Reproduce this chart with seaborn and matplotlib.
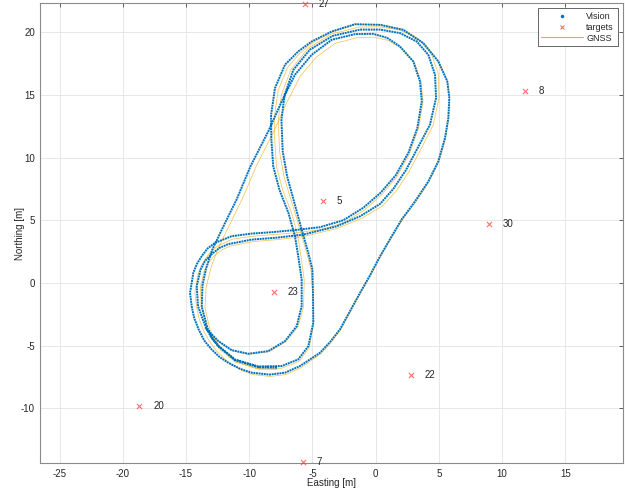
import matplotlib
matplotlib.use("Agg")
import matplotlib.pyplot as plt
from matplotlib.lines import Line2D
import seaborn as sns
import pandas as pd

# ---------------- data ----------------
vision_x = [-7.8, -9.28, -11.12, -12.44, -13.0, -13.45, -14.05, -14.15, -13.85, -13.5, -12.97, -12.35, -11.65,
            -9.8, -7.96, -5.72, -3.08, -1.23, 0.35, 1.4, 2.4, 3.4, 4.3,
            4.78, 4.7, 4.17, 3.25, 1.93, 0.35, -1.23, -3.4, -5.2, -6.5,
            -7.2, -7.45, -7.35, -7.0, -6.7, -6.2, -5.75, -5.35, -5.0, -4.95,
            -4.93, -5.32, -6.12, -7.43, -9.28, -11.12, -12.44, -12.95, -13.3, -13.75, -13.7,
            -13.4, -12.9, -11.91, -11.0, -9.9, -8.49, -7.43, -6.38, -5.06, -3.47,
            -1.63, -0.2, 0.9, 1.93, 2.98, 3.51, 3.65, 3.3, 2.6, 1.6,
            0.4, -0.97, -2.56, -4.4, -6.38, -8.22, -9.8, -11.39, -12.7, -13.3, -13.76,
            -14.15, -14.42, -14.68, -14.55, -14.35, -14.0, -13.55, -12.97, -12.35, -11.65, -10.7, -9.8, -8.4, -7.17, -5.98,
            -4.4, -3.6, -2.82, -2.0, -1.23, -0.45, 0.35, 1.2, 2.06, 3.12,
            4.17, 4.96, 5.49, 5.75, 5.83, 5.67, 4.96, 3.77, 2.19, 0.35,
            -1.63, -3.47, -5.06, -6.12, -7.17, -7.96, -8.27, -8.25, -8.1, -7.6,
            -6.9, -6.38, -6.12, -5.85, -5.85, -6.24, -7.17, -8.49, -10.07, -11.39,
            -12.44, -13.48]
vision_y = [-6.75, -6.72, -6.15, -5.05, -4.35, -3.5, -1.85, -0.25, 1.07, 1.75, 2.3, 2.8, 3.1,
            3.46, 3.6, 3.86, 4.52, 5.32, 6.3, 7.5, 9.0, 10.9, 12.62,
            14.75, 16.6, 18.19, 19.25, 19.92, 20.2, 20.2, 19.7, 18.6, 17.0,
            15.0, 13.0, 10.5, 8.5, 7.4, 5.6, 3.9, 2.5, 1.07, -1.05,
            -3.17, -5.03, -6.09, -6.62, -6.65, -6.1, -5.0, -4.35, -3.6, -1.9, -0.2,
            1.2, 2.7, 4.79, 6.65, 9.3, 12.09, 14.47, 16.6, 18.19, 19.39,
            19.84, 19.86, 19.55, 18.85, 17.66, 16.07, 14.47, 12.36, 10.4, 8.6,
            7.2, 6.0, 5.0, 4.45, 4.22, 4.05, 3.94, 3.73, 3.2, 2.75, 2.13,
            1.5, 0.81, -0.78, -1.85, -2.8, -3.7, -4.6, -5.3, -5.9, -6.36, -6.85, -7.15, -7.3, -7.15, -6.62,
            -5.56, -4.7, -3.7, -2.2, -0.78, 0.6, 2.13, 3.6, 5.06, 6.51,
            8.1, 9.7, 11.56, 13.15, 14.75, 16.07, 17.66, 19.12, 20.18, 20.58,
            20.63, 20.05, 19.25, 18.46, 17.4, 15.54, 13.4, 11.5, 9.3, 7.4,
            5.6, 3.73, 2.13, 0.28, -1.85, -3.44, -4.63, -5.43, -5.64, -5.35,
            -4.63, -3.57]

gnss_x = [-7.8, -9.3, -11.1, -12.4, -12.85, -13.3, -13.8, -13.85, -13.55, -13.2, -12.75, -12.15, -11.5,
          -9.7, -7.9, -5.7, -3.05, -1.1, 0.55, 1.65, 2.65, 3.65, 4.55,
          5.02, 4.95, 4.4, 3.4, 1.95, 0.3, -1.3, -3.5, -5.35, -6.7,
          -7.45, -7.7, -7.6, -7.25, -6.9, -6.35, -5.85, -5.45, -5.1, -4.95,
          -4.9, -5.25, -6.05, -7.45, -9.3, -11.1, -12.3, -12.75, -13.1, -13.5, -13.4,
          -13.0, -12.45, -11.45, -10.55, -9.45, -8.05, -7.0, -5.95, -4.7, -3.2,
          -1.5, -0.15, 0.95, 2.0, 3.05, 3.6, 3.75, 3.4, 2.7, 1.7,
          0.5, -0.9, -2.5, -4.35, -6.35, -8.2, -9.8, -11.3, -12.5, -13.05, -13.45,
          -13.8, -14.05, -14.3, -14.15, -13.95, -13.6, -13.15, -12.6, -12.0, -11.4, -10.55, -9.7, -8.35, -7.1, -5.9,
          -4.35, -3.55, -2.78, -1.97, -1.2, -0.42, 0.38, 1.23, 2.1, 3.17,
          4.22, 5.0, 5.53, 5.79, 5.86, 5.7, 5.0, 3.8, 2.2, 0.35,
          -1.6, -3.45, -5.0, -6.0, -6.95, -7.7, -8.0, -7.98, -7.85, -7.35,
          -6.65, -6.15, -5.9, -5.65, -5.7, -6.15, -7.1, -8.45, -10.05, -11.4,
          -12.45, -13.4]
gnss_y = [-6.9, -6.85, -6.3, -5.2, -4.45, -3.6, -1.9, -0.3, 1.0, 1.65, 2.2, 2.65, 2.95,
          3.3, 3.45, 3.7, 4.35, 5.15, 6.15, 7.35, 8.9, 10.8, 12.6,
          14.75, 16.7, 18.3, 19.45, 20.15, 20.42, 20.4, 19.85, 18.7, 17.0,
          15.0, 13.0, 10.5, 8.5, 7.3, 5.5, 3.8, 2.4, 1.0, -1.1,
          -3.2, -5.15, -6.25, -6.8, -6.85, -6.25, -5.1, -4.45, -3.7, -2.0, -0.3,
          1.3, 2.8, 4.85, 6.7, 9.3, 12.1, 14.45, 16.5, 18.0, 19.1,
          19.55, 19.6, 19.35, 18.75, 17.6, 16.05, 14.45, 12.35, 10.35, 8.5,
          7.05, 5.8, 4.8, 4.25, 4.0, 3.85, 3.72, 3.5, 2.95, 2.5, 1.95,
          1.35, 0.7, -0.8, -1.95, -2.9, -3.8, -4.65, -5.4, -6.0, -6.5, -7.0, -7.3, -7.45, -7.3, -6.75,
          -5.65, -4.78, -3.75, -2.25, -0.82, 0.56, 2.1, 3.57, 5.02, 6.46,
          8.05, 9.66, 11.53, 13.13, 14.74, 16.08, 17.68, 19.15, 20.22, 20.6,
          20.6, 20.0, 19.15, 18.3, 17.2, 15.4, 13.3, 11.45, 9.3, 7.4,
          5.6, 3.7, 2.1, 0.25, -1.9, -3.5, -4.68, -5.48, -5.68, -5.4,
          -4.68, -3.65]

target_x = [-5.59, 11.82, -4.16, 8.97, -8.04, 2.8, -18.7, -5.74]
target_y = [22.25, 15.33, 6.57, 4.74, -0.68, -7.36, -9.83, -14.3]
target_labels = ["27", "8", "5", "30", "23", "22", "20", "7"]

# ---------------- style ----------------
BLUE = "#0072BD"
YELLOW = "#EDB120"
sns.set_style("white")
plt.rcParams["font.family"] = ["Liberation Sans", "DejaVu Sans"]
plt.rcParams["font.size"] = 7
plt.rcParams["axes.unicode_minus"] = False

fig = plt.figure(figsize=(6.25, 4.92), dpi=100)
ax = fig.add_axes([0.0646, 0.0589, 0.9322, 0.935])

vis_df = pd.DataFrame({"x": vision_x, "y": vision_y})
gn_df = pd.DataFrame({"x": gnss_x, "y": gnss_y})
tg_df = pd.DataFrame({"x": target_x, "y": target_y})

sns.lineplot(data=gn_df, x="x", y="y", sort=False, estimator=None, ax=ax,
             color=YELLOW, lw=0.55, alpha=0.75, zorder=2, legend=False)
sns.lineplot(data=vis_df, x="x", y="y", sort=False, estimator=None, ax=ax,
             color=BLUE, lw=1.4, linestyle=(0, (1.0, 0.35)), zorder=3, legend=False)
sns.scatterplot(data=tg_df, x="x", y="y", ax=ax, marker="x", color="#FF3030",
                s=14, linewidth=0.8, alpha=0.7, zorder=4, clip_on=False, legend=False)
for tx, ty, lab in zip(target_x, target_y, target_labels):
    ax.text(tx + 1.1, ty, lab, ha="left", va="center", fontsize=7, color="#262626",
            zorder=5, clip_on=False)

ax.set_xlim(-26.52, 19.57)
ax.set_ylim(-14.35, 22.32)
ax.set_xticks([-25, -20, -15, -10, -5, 0, 5, 10, 15])
ax.set_yticks([-10, -5, 0, 5, 10, 15, 20])
ax.set_xlabel("Easting [m]", fontsize=7, color="#262626")
ax.set_ylabel("Northing [m]", fontsize=7, color="#262626")
ax.xaxis.set_label_coords(0.5, -0.033)
ax.yaxis.set_label_coords(-0.027, 0.5)
ax.grid(True, color="#e3e3e3", lw=0.6)
ax.set_axisbelow(True)
ax.tick_params(direction="in", length=3, width=0.5, colors="#262626",
               top=True, right=True, labelsize=7, pad=4)
for sp in ax.spines.values():
    sp.set_color("#8a8a8a")
    sp.set_linewidth(0.8)

handles = [
    Line2D([], [], marker=".", color=BLUE, linestyle="none", markersize=3),
    Line2D([], [], marker="x", color="#FF3030", alpha=0.7, linestyle="none",
           markersize=3.5, markeredgewidth=0.8),
    Line2D([], [], color=YELLOW, lw=0.8),
]
leg = ax.legend(handles, ["Vision", "targets", "GNSS"], loc="upper right",
                fontsize=6.5, frameon=True, fancybox=False, framealpha=1,
                edgecolor="#4d4d4d", borderpad=0.4, handlelength=4.6,
                handletextpad=0.4, labelspacing=0.2, borderaxespad=0.6)
leg.get_frame().set_linewidth(0.6)

fig.savefig("out.png", dpi=100)
